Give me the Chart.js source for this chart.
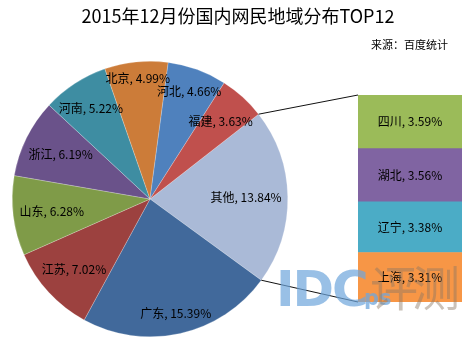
<!DOCTYPE html>
<html>
<head>
<meta charset="utf-8">
<script src="https://cdn.jsdelivr.net/npm/chart.js@4/dist/chart.umd.min.js"></script>
<style>
  body { margin: 0; background: #fff; }
  #wrap { position: relative; width: 470px; height: 340px; overflow: hidden; font-family: "Noto Sans CJK SC", "Noto Sans", sans-serif; }
  #pie { position: absolute; left: 0; top: 0; }
  #bar { position: absolute; left: 358px; top: 95px; }
  .title { position: absolute; left: 0; width: 476px; top: 2px; text-align: center; font-size: 18px; font-weight: normal; color: #000; }
  .source { position: absolute; right: 22px; top: 36px; font-size: 11px; color: #000; }
  .wm-idc { position: absolute; left: 276px; top: 260px; font-family: "DejaVu Sans", sans-serif; font-weight: bold; font-size: 50px; color: rgba(110, 165, 220, 0.7); letter-spacing: -2px; }
  .wm-ps { position: absolute; left: 364px; top: 286px; font-family: "DejaVu Sans", sans-serif; font-weight: bold; font-size: 21px; color: rgba(110, 165, 220, 0.75); }
  .wm-cn { position: absolute; left: 370px; top: 250px; font-family: "Noto Sans CJK SC", serif; font-size: 48px; color: rgba(140, 120, 100, 0.45); letter-spacing: -6px; }
</style>
</head>
<body>
<div id="wrap">
  <canvas id="pie" width="470" height="340"></canvas>
  <canvas id="bar" width="104" height="207"></canvas>
  <div class="title">2015年12月份国内网民地域分布TOP12</div>
  <div class="source">来源：百度统计</div>
  <div class="wm-idc">IDC</div>
  <div class="wm-ps">ps</div>
  <div class="wm-cn">评测</div>
</div>
<script>
// main pie (其他 = sum of the four provinces shown in the bar)
const pieLabels = ['其他', '广东', '江苏', '山东', '浙江', '河南', '北京', '河北', '福建'];
const pieValues = [13.84, 15.39, 7.02, 6.28, 6.19, 5.22, 4.99, 4.66, 3.63];
const pieColors = ['#AABAD7', '#41699B', '#9C413F', '#7F9B48', '#6A528A', '#3E8DA2', '#CC7C39', '#4F81BD', '#C0504D'];

// secondary stacked bar, bottom to top
const barLabels = ['上海', '辽宁', '湖北', '四川'];
const barValues = [3.31, 3.38, 3.56, 3.59];
const barColors = ['#F79646', '#4BACC6', '#8064A2', '#9BBB59'];

const labelFont = '12px "Noto Sans CJK SC", sans-serif';

function fmt(name, v) {
    return name + ', ' + v.toFixed(2) + '%';
}

// bar of pie: one category, one dataset per province
const barChart = new Chart(document.getElementById('bar'), {
    type: 'bar',
    data: {
        labels: [''],
        datasets: barLabels.map((name, i) => ({
            label: name,
            data: [barValues[i]],
            backgroundColor: barColors[i],
            borderWidth: 0,
            barPercentage: 1,
            categoryPercentage: 1
        }))
    },
    options: {
        responsive: false,
        animation: false,
        layout: { padding: 0 },
        scales: {
            x: { stacked: true, display: false },
            y: { stacked: true, display: false, min: 0, max: barValues.reduce((a, b) => a + b, 0) }
        },
        plugins: { legend: { display: false }, tooltip: { enabled: false } }
    },
    plugins: [{
        id: 'barLabels',
        afterDatasetsDraw(chart) {
            const ctx = chart.ctx;
            ctx.save();
            ctx.font = labelFont;
            ctx.fillStyle = '#000';
            ctx.textAlign = 'center';
            ctx.textBaseline = 'middle';
            chart.data.datasets.forEach((ds, i) => {
                const el = chart.getDatasetMeta(i).data[0];
                ctx.fillText(fmt(ds.label, ds.data[0]), el.x, (el.y + el.base) / 2);
            });
            ctx.restore();
        }
    }]
});

// labels at "inside end" of each slice, plus connector lines to the bar
const pieExtras = {
    id: 'pieExtras',
    afterDatasetsDraw(chart) {
        const ctx = chart.ctx;
        const meta = chart.getDatasetMeta(0);
        ctx.save();
        ctx.font = labelFont;
        ctx.fillStyle = '#000';
        ctx.textAlign = 'center';
        ctx.textBaseline = 'middle';
        meta.data.forEach((arc, i) => {
            const mid = (arc.startAngle + arc.endAngle) / 2;
            const text = fmt(pieLabels[i], pieValues[i]);
            const hw = ctx.measureText(text).width / 2;
            const hh = 7;
            const ext = Math.abs(Math.cos(mid)) * hw + Math.abs(Math.sin(mid)) * hh;
            const d = arc.outerRadius - 6 - ext;
            ctx.fillText(text, arc.x + Math.cos(mid) * d, arc.y + Math.sin(mid) * d);
        });

        // connectors from the 其他 slice edges to the bar corners
        const other = meta.data[0];
        const barMeta = barChart.getDatasetMeta(barLabels.length - 1).data[0];
        const bottomMeta = barChart.getDatasetMeta(0).data[0];
        const bx = 358 + barMeta.x - barMeta.width / 2;
        const topY = 95 + barMeta.y;
        const botY = 95 + bottomMeta.base;
        ctx.strokeStyle = '#111';
        ctx.lineWidth = 1;
        ctx.beginPath();
        ctx.moveTo(other.x + Math.cos(other.startAngle) * other.outerRadius, other.y + Math.sin(other.startAngle) * other.outerRadius);
        ctx.lineTo(bx, topY);
        ctx.moveTo(other.x + Math.cos(other.endAngle) * other.outerRadius, other.y + Math.sin(other.endAngle) * other.outerRadius);
        ctx.lineTo(bx, botY);
        ctx.stroke();
        ctx.restore();
    }
};

new Chart(document.getElementById('pie'), {
    type: 'pie',
    data: {
        labels: pieLabels,
        datasets: [{
            data: pieValues,
            backgroundColor: pieColors,
            borderColor: 'rgba(255,255,255,0.45)',
            borderWidth: 0.5
        }]
    },
    options: {
        responsive: false,
        animation: false,
        rotation: 52,
        layout: { padding: { top: 61, bottom: 3, left: 12, right: 182 } },
        plugins: { legend: { display: false }, tooltip: { enabled: false } }
    },
    plugins: [pieExtras]
});
</script>
</body>
</html>
